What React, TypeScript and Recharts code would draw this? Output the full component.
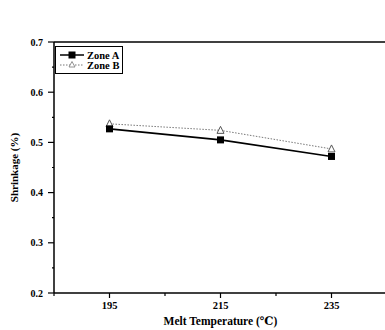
import {
  LineChart,
  Line,
  XAxis,
  YAxis,
  ReferenceLine,
  Label,
} from "recharts";

const temps = [195, 215, 235];
const zoneA = [0.527, 0.505, 0.472];
const zoneB = [0.537, 0.524, 0.487];
const xTicks = [185, 195, 205, 215, 225, 235];
const xLabeled = [195, 215, 235];
const yTicks = [0.2, 0.25, 0.3, 0.35, 0.4, 0.45, 0.5, 0.55, 0.6, 0.65, 0.7];

const data = temps.map((t, i) => ({ temp: t, a: zoneA[i], b: zoneB[i] }));

const FONT = "'Liberation Serif', 'DejaVu Serif', serif";

function XTick(props: any) {
  const { x, y, payload } = props;
  const major = xLabeled.includes(payload.value);
  return (
    <g>
      <line x1={x} x2={x} y1={y - 8} y2={y - 8 + (major ? 5 : 3)} stroke="#000" strokeWidth={1.2} />
      {major && (
        <text x={x} y={y + 8} textAnchor="middle" fontFamily={FONT} fontWeight="bold" fontSize={10.5} fill="#000">
          {payload.value}
        </text>
      )}
    </g>
  );
}

function YTick(props: any) {
  const { x, y, payload } = props;
  const v = payload.value;
  const major = Math.abs(v * 10 - Math.round(v * 10)) < 1e-6;
  return (
    <g>
      <line x1={x + 8} x2={x + 8 - (major ? 6 : 2)} y1={y} y2={y} stroke="#000" strokeWidth={1.2} />
      {major && (
        <text x={x - 3} y={y + 3.5} textAnchor="end" fontFamily={FONT} fontWeight="bold" fontSize={10} fill="#000">
          {v.toFixed(1)}
        </text>
      )}
    </g>
  );
}

function Square(props: any) {
  const { cx, cy } = props;
  return <rect x={cx - 3.5} y={cy - 3.5} width={7} height={7} fill="#000" />;
}

function Triangle(props: any) {
  const { cx, cy } = props;
  return (
    <path d={`M${cx},${cy - 4} L${cx + 3.5},${cy + 3} L${cx - 3.5},${cy + 3} Z`} fill="#fff" stroke="#555" strokeWidth={1} />
  );
}

function LegendBox() {
  return (
    <div style={{ position: "absolute", top: 46, left: 55, border: "1.5px solid #000", background: "#fff", width: 66, height: 26 }}>
      <svg width={66} height={26} style={{ display: "block" }}>
        <line x1={4} x2={28} y1={8} y2={8} stroke="#000" strokeWidth={1.5} />
        <rect x={12.5} y={4.5} width={7} height={7} fill="#000" />
        <text x={31} y={11.5} fontFamily={FONT} fontWeight="bold" fontSize={10.5}>Zone A</text>
        <line x1={4} x2={28} y1={18} y2={18} stroke="#777" strokeWidth={1} strokeDasharray="1.5 1.5" />
        <path d="M16,14.5 L19,20 L13,20 Z" fill="#fff" stroke="#777" strokeWidth={0.8} />
        <text x={31} y={21.5} fontFamily={FONT} fontWeight="bold" fontSize={10.5}>Zone B</text>
      </svg>
    </div>
  );
}

export default function App() {
  return (
    <div style={{ position: "absolute", top: 0, left: 0, width: 385, height: 330, overflow: "hidden", background: "#fff" }}>
      <LineChart width={390} height={330} data={data} margin={{ top: 42, right: 3, bottom: 0, left: 0 }}>
        <XAxis
          dataKey="temp"
          type="number"
          domain={[185, 245]}
          ticks={xTicks}
          tick={<XTick />}
          tickLine={false}
          height={37}
          axisLine={{ stroke: "#000", strokeWidth: 1.5 }}
          interval={0}
        >
          <Label
            value="Melt Temperature (℃)"
            position="insideBottom"
            offset={5}
            style={{ fontFamily: FONT, fontWeight: "bold", fontSize: 11.5, fill: "#000" }}
          />
        </XAxis>
        <YAxis
          type="number"
          domain={[0.2, 0.7]}
          ticks={yTicks}
          tick={<YTick />}
          tickLine={false}
          width={54}
          axisLine={{ stroke: "#000", strokeWidth: 1.5 }}
          interval={0}
        >
          <Label
            value="Shrinkage (%)"
            angle={-90}
            position="insideLeft"
            offset={14}
            style={{ textAnchor: "middle", fontFamily: FONT, fontWeight: "bold", fontSize: 11, fill: "#000" }}
          />
        </YAxis>
        <ReferenceLine y={0.7} stroke="#000" strokeWidth={1.5} />
        <Line
          dataKey="b"
          stroke="#777"
          strokeWidth={1}
          strokeDasharray="1.5 1.5"
          dot={<Triangle />}
          isAnimationActive={false}
        />
        <Line
          dataKey="a"
          stroke="#000"
          strokeWidth={1.6}
          dot={<Square />}
          isAnimationActive={false}
        />
      </LineChart>
      <LegendBox />
    </div>
  );
}
